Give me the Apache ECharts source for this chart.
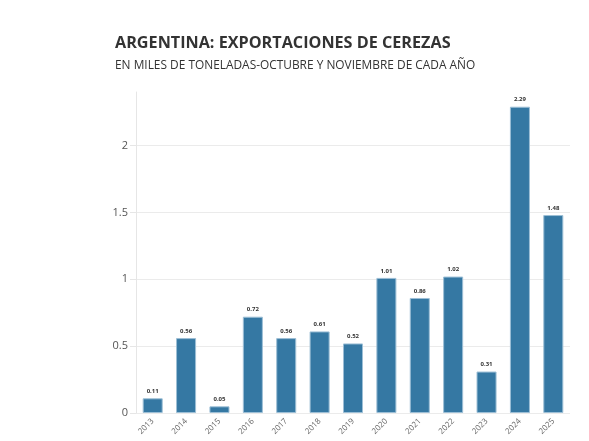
<!DOCTYPE html>
<html>
<head>
<meta charset="utf-8">
<script src="https://cdn.jsdelivr.net/npm/echarts@6/dist/echarts.min.js"></script>
<style>
  html, body { margin: 0; padding: 0; background: #fff; }
  #chart { width: 589px; height: 441px; }
</style>
</head>
<body>
<div id="chart"></div>
<script>
// años (octubre y noviembre de cada año)
const years = ['2013', '2014', '2015', '2016', '2017', '2018', '2019',
  '2020', '2021', '2022', '2023', '2024', '2025'];
// miles de toneladas
const values = [0.11, 0.56, 0.05, 0.72, 0.56, 0.61, 0.52,
  1.01, 0.86, 1.02, 0.31, 2.29, 1.48];

const titleText = 'ARGENTINA: EXPORTACIONES DE CEREZAS';
const subtitleText = 'EN MILES DE TONELADAS-OCTUBRE Y NOVIEMBRE DE CADA AÑO';

let chartIns = echarts.init(document.getElementById('chart'));

chartIns.setOption({
  animation: false,
  title: {
    text: titleText,
    subtext: subtitleText,
    left: 110,
    top: 30,
    itemGap: 9,
    textStyle: {
      fontFamily: 'Open Sans',
      fontSize: 16.2,
      fontWeight: 'bold',
      color: '#333'
    },
    subtextStyle: {
      fontFamily: 'Open Sans',
      fontSize: 11.9,
      color: '#333'
    }
  },
  grid: { left: 136, right: 19, top: 92, bottom: 28 },
  xAxis: {
    type: 'category',
    data: years,
    axisLine: { show: false },
    axisTick: { show: false },
    axisLabel: {
      rotate: 45,
      fontFamily: 'Open Sans',
      fontSize: 8,
      color: '#666',
      margin: 7
    }
  },
  yAxis: {
    type: 'value',
    min: 0,
    max: 2.4,
    interval: 0.5,
    axisLine: { show: true, lineStyle: { color: '#e6e6e6' } },
    axisTick: { show: true, length: 6, lineStyle: { color: '#e6e6e6' } },
    axisLabel: {
      showMaxLabel: false,
      fontFamily: 'Open Sans',
      fontSize: 11,
      color: '#555',
      margin: 8
    },
    splitLine: { show: true, showMaxLine: false, lineStyle: { color: '#ebebeb' } }
  },
  series: [{
    type: 'bar',
    data: values,
    barWidth: '60%',
    itemStyle: {
      color: '#3578a3',
      borderColor: '#9dbfd6',
      borderWidth: 1
    },
    label: {
      show: true,
      position: 'top',
      distance: 4,
      fontFamily: 'Open Sans',
      fontSize: 6,
      fontWeight: 'bold',
      color: '#333'
    }
  }]
});
</script>
</body>
</html>
